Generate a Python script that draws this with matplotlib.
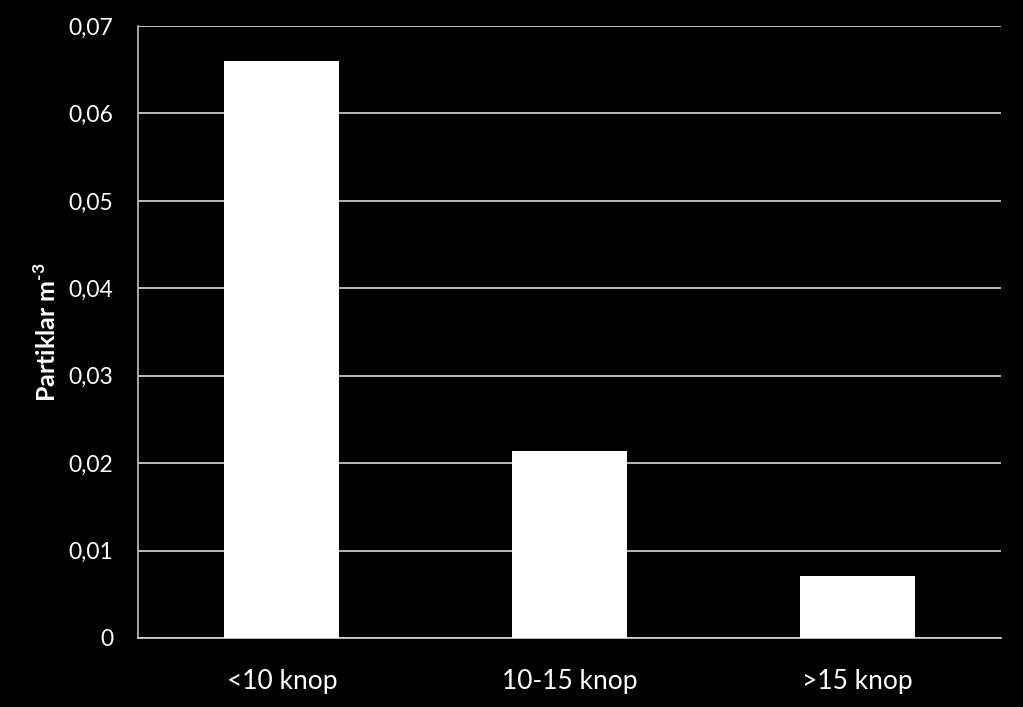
import matplotlib
matplotlib.use("Agg")
import matplotlib.pyplot as plt

categories = ["<10 knop", "10-15 knop", ">15 knop"]
values = [0.066, 0.0214, 0.0071]
yticks = [0, 0.01, 0.02, 0.03, 0.04, 0.05, 0.06, 0.07]
ytick_labels = ["0", "0,01", "0,02", "0,03", "0,04", "0,05", "0,06", "0,07"]

plt.rcParams['font.family'] = ['Lato', 'DejaVu Sans']
plt.rcParams['mathtext.fontset'] = 'custom'
plt.rcParams['mathtext.rm'] = 'Lato:bold'
plt.rcParams['mathtext.bf'] = 'Lato:bold'

fig = plt.figure(figsize=(10.23, 7.07), dpi=100, facecolor='black')
ax = fig.add_axes([0.1349, 0.0976, 0.8436, 0.8656])
ax.set_facecolor('black')

x = list(range(len(categories)))
ax.set_axisbelow(True)
ax.yaxis.grid(True, color='#d9d9d9', linewidth=1.2)
ax.bar(x, values, width=0.4, color='white', zorder=3)

ax.set_xlim(-0.5, len(categories) - 0.5)
ax.set_ylim(0, 0.07)
ax.set_yticks(yticks)
ax.set_yticklabels(ytick_labels)
ax.set_xticks(x)
ax.set_xticklabels(categories)
ax.tick_params(axis='both', length=0, colors='white')
ax.tick_params(axis='y', pad=18, labelsize=16.5)
ax.tick_params(axis='x', pad=22, labelsize=19)

for s in ['top', 'right']:
    ax.spines[s].set_visible(False)
ax.spines['left'].set_color('#bfbfbf')
ax.spines['left'].set_linewidth(1.2)
ax.spines['bottom'].set_color('#d9d9d9')
ax.spines['bottom'].set_linewidth(1.2)

ax.set_ylabel(r"Partiklar m$^{\text{-3}}$", color='white', fontsize=18, fontweight='bold', labelpad=6)

fig.savefig("out.png", dpi=100, facecolor='black')
